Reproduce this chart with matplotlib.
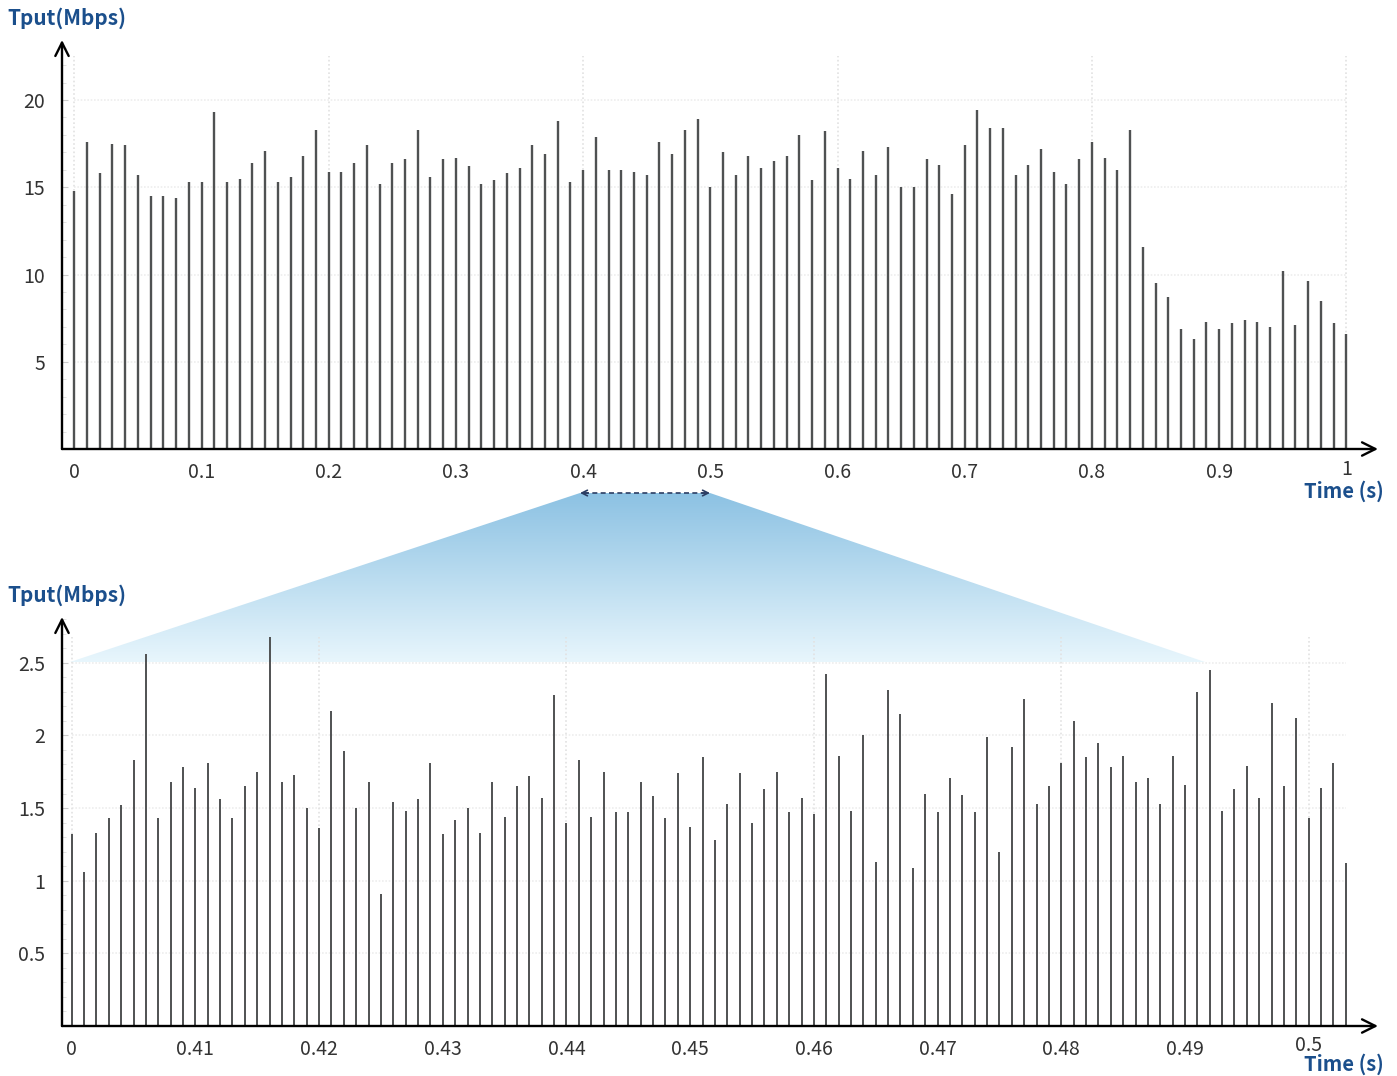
import matplotlib
matplotlib.use('Agg')
import matplotlib.pyplot as plt
import numpy as np
from matplotlib.patches import Polygon

plt.rcParams['font.family'] = ['Noto Sans CJK KR', 'DejaVu Sans']

# throughput over 1 s, one sample every 10 ms
full_t = np.round(np.arange(101) * 0.01, 2)
full_tput = [14.8, 17.6, 15.8, 17.5, 17.4, 15.7, 14.5, 14.5, 14.4, 15.3,
             15.3, 19.3, 15.3, 15.5, 16.4, 17.1, 15.3, 15.6, 16.8, 18.3,
             15.9, 15.9, 16.4, 17.4, 15.2, 16.4, 16.6, 18.3, 15.6, 16.6,
             16.7, 16.2, 15.2, 15.4, 15.8, 16.1, 17.4, 16.9, 18.8, 15.3,
             16.0, 17.9, 16.0, 16.0, 15.9, 15.7, 17.6, 16.9, 18.3, 18.9,
             15.0, 17.0, 15.7, 16.8, 16.1, 16.5, 16.8, 18.0, 15.4, 18.2,
             16.1, 15.5, 17.1, 15.7, 17.3, 15.0, 15.0, 16.6, 16.3, 14.6,
             17.4, 19.4, 18.4, 18.4, 15.7, 16.3, 17.2, 15.9, 15.2, 16.6,
             17.6, 16.7, 16.0, 18.3, 11.6, 9.5, 8.7, 6.9, 6.3, 7.3,
             6.9, 7.2, 7.4, 7.3, 7.0, 10.2, 7.1, 9.6, 8.5, 7.2,
             6.6]

# close-up of 0.4 s .. 0.5 s, one sample every 1 ms
zoom_t = np.round(0.4 + np.arange(104) * 0.001, 3)
zoom_tput = [1.32, 1.06, 1.33, 1.43, 1.52, 1.83, 2.56, 1.43, 1.68, 1.78,
             1.64, 1.81, 1.56, 1.43, 1.65, 1.75, 2.68, 1.68, 1.73, 1.50,
             1.36, 2.17, 1.89, 1.50, 1.68, 0.91, 1.54, 1.48, 1.56, 1.81,
             1.32, 1.42, 1.50, 1.33, 1.68, 1.44, 1.65, 1.72, 1.57, 2.28,
             1.40, 1.83, 1.44, 1.75, 1.47, 1.47, 1.68, 1.58, 1.43, 1.74,
             1.37, 1.85, 1.28, 1.53, 1.74, 1.40, 1.63, 1.75, 1.47, 1.57,
             1.46, 2.42, 1.86, 1.48, 2.00, 1.13, 2.31, 2.15, 1.09, 1.60,
             1.47, 1.71, 1.59, 1.47, 1.99, 1.20, 1.92, 2.25, 1.53, 1.65,
             1.81, 2.10, 1.85, 1.95, 1.78, 1.86, 1.68, 1.71, 1.53, 1.86,
             1.66, 2.30, 2.45, 1.48, 1.63, 1.79, 1.57, 2.22, 1.65, 2.12,
             1.43, 1.64, 1.81, 1.12]

full_xticks = [0, 0.1, 0.2, 0.3, 0.4, 0.5, 0.6, 0.7, 0.8, 0.9, 1.0]
full_xlabels = ['0', '0.1', '0.2', '0.3', '0.4', '0.5', '0.6', '0.7', '0.8', '0.9', '1']
full_yticks = [5, 10, 15, 20]
full_ylabels = ['5', '10', '15', '20']
zoom_xticks = [0.40, 0.41, 0.42, 0.43, 0.44, 0.45, 0.46, 0.47, 0.48, 0.49, 0.50]
zoom_xlabels = ['0', '0.41', '0.42', '0.43', '0.44', '0.45', '0.46', '0.47', '0.48', '0.49', '0.5']
zoom_yticks = [0.5, 1, 1.5, 2, 2.5]
zoom_ylabels = ['0.5', '1', '1.5', '2', '2.5']

W, H = 1397, 1076
BLUE = '#1b4f8c'
BAR = '#4f5152'

fig = plt.figure(figsize=(W / 100, H / 100), dpi=100)

# pixel layer underneath both panels (zoom wedge + titles)
bg = fig.add_axes([0, 0, 1, 1], zorder=0)
bg.set_xlim(0, W)
bg.set_ylim(H, 0)
bg.axis('off')


def panel(rect, t, vals, xlim, ylim, xticks, xlabels, yticks, ylabels, minor,
          grid_x, grid_top, lw, last_lift):
    ax = fig.add_axes(rect, zorder=1)
    ax.patch.set_alpha(0)
    ax.set_xlim(*xlim)
    ax.set_ylim(*ylim)
    for s in ax.spines.values():
        s.set_visible(False)
    # faint grid
    for y in yticks:
        ax.plot([t[0], t[-1]], [y, y], color='#eeeeee', lw=1.2, ls=(0, (1, 1)), zorder=0)
    for x in grid_x:
        ax.plot([x, x], [0, grid_top], color='#e2e2e2', lw=1.2, ls=(0, (1, 1.5)), zorder=0)
    ax.vlines(t, 0, vals, color=BAR, lw=lw, zorder=2)
    ax.set_xticks(xticks)
    ax.set_xticklabels(xlabels)
    ax.set_yticks(yticks)
    ax.set_yticklabels(ylabels)
    ax.set_yticks(np.arange(minor, ylim[1], minor), minor=True)
    ax.tick_params(axis='x', length=0, pad=9.5, labelsize=14, labelcolor='#333333')
    ax.tick_params(axis='y', which='major', direction='in', length=4, color='#cccccc',
                   pad=12, labelsize=14, labelcolor='#333333')
    ax.tick_params(axis='y', which='minor', direction='in', length=3, color='#dddddd')
    # the end label sits a little higher
    ax.xaxis.get_major_ticks()[-1].label1.set_y(last_lift)
    # axis arrows
    arrow = dict(arrowstyle='->', lw=1.7, color='black', shrinkA=0, shrinkB=0,
                 mutation_scale=24)
    ax.annotate('', xy=(1, 0), xytext=(0, 0), xycoords='axes fraction',
                textcoords='axes fraction', arrowprops=arrow)
    ax.annotate('', xy=(0, 1), xytext=(0, 0), xycoords='axes fraction',
                textcoords='axes fraction', arrowprops=arrow)
    return ax


left = 62 / W
width = (1378 - 62) / W

top = panel([left, 1 - 449 / H, width, (449 - 40) / H], full_t, full_tput,
            (-0.0097, 1.0249), (0, 23.44), full_xticks, full_xlabels,
            full_yticks, full_ylabels, 1,
            [0, 0.2, 0.4, 0.6, 0.8, 1.0], 22.5, 1.7, 0.008)

bottom = panel([left, 1 - 1026 / H, width, (1026 - 617) / H], zoom_t, zoom_tput,
               (0.39922, 0.5056), (0, 2.815), zoom_xticks, zoom_xlabels,
               zoom_yticks, zoom_ylabels, 0.1,
               [0.40, 0.42, 0.44, 0.46, 0.48, 0.50], 2.68, 1.4, 0.01)

# wedge linking 0.4-0.5 s in the upper panel to the close-up
grad = np.linspace(0, 1, 256).reshape(-1, 1)
c_top = np.array([0.55, 0.76, 0.89])
c_bot = np.array([0.91, 0.965, 0.99])
img = c_top + (c_bot - c_top) * grad[..., None]
img = img.reshape(256, 1, 3)
im = bg.imshow(img, extent=(0, W, 662, 493), aspect='auto', interpolation='bilinear')
wedge = Polygon([(580, 493), (710, 493), (1205, 662), (70, 662)], closed=True,
                transform=bg.transData, facecolor='none', edgecolor='none')
bg.add_patch(wedge)
im.set_clip_path(wedge)

# dashed span marker
bg.plot([584, 706], [493, 493], color='#2b3d63', lw=1.2, ls=(0, (3, 2)))
head = dict(arrowstyle='->', lw=1.2, color='#2b3d63', shrinkA=0, shrinkB=0, mutation_scale=10)
bg.annotate('', xy=(580, 493), xytext=(588, 493), arrowprops=head)
bg.annotate('', xy=(710, 493), xytext=(702, 493), arrowprops=head)

for y in (18, 595):
    bg.text(7, y, 'Tput(Mbps)', color=BLUE, fontsize=15, fontweight='bold',
            ha='left', va='center')
for y in (491, 1064):
    bg.text(1384, y, 'Time (s)', color=BLUE, fontsize=14.5, fontweight='bold',
            ha='right', va='center')

fig.savefig('out.png', dpi=100)
